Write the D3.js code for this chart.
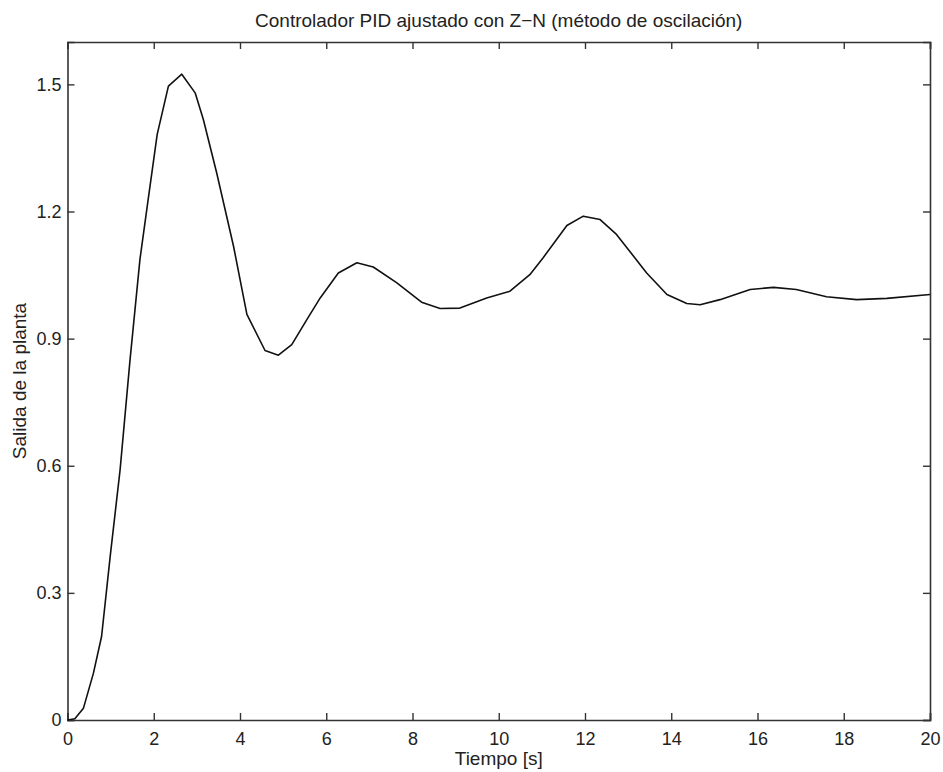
<!DOCTYPE html>
<html>
<head>
<meta charset="utf-8">
<script src="https://cdn.jsdelivr.net/npm/d3@7"></script>
<style>
  body { margin: 0; background: #fff; }
  text { font-family: "Liberation Sans", Arial, sans-serif; fill: #222; }
</style>
</head>
<body>
<div id="chart-area"></div>
<script>
// step response of the plant
const tiempo = [0, 0.17, 0.37, 0.6, 0.79, 0.99, 1.22, 1.45, 1.68, 1.87, 2.08, 2.34, 2.65, 2.96, 3.15,
  3.46, 3.85, 4.16, 4.58, 4.89, 5.2, 5.55, 5.86, 6.28, 6.71, 7.09, 7.63, 8.21, 8.64, 9.1, 9.72,
  10.26, 10.72, 11.03, 11.58, 11.96, 12.35, 12.73, 13.43, 13.9, 14.36, 14.67, 15.13, 15.83, 16.37,
  16.9, 17.6, 18.3, 19.0, 20];
const salida = [0, 0.003, 0.028, 0.11, 0.197, 0.386, 0.591, 0.85, 1.087, 1.228, 1.382, 1.496, 1.524, 1.48, 1.417,
  1.291, 1.118, 0.957, 0.872, 0.861, 0.886, 0.945, 0.996, 1.055, 1.079, 1.069, 1.032, 0.986, 0.971, 0.972, 0.996,
  1.012, 1.051, 1.091, 1.167, 1.189, 1.181, 1.146, 1.055, 1.004, 0.983, 0.98, 0.992, 1.016, 1.021,
  1.016, 0.999, 0.992, 0.995, 1.004];
const xTicks = [0, 2, 4, 6, 8, 10, 12, 14, 16, 18, 20];
const yTicks = [0, 0.3, 0.6, 0.9, 1.2, 1.5];

let margin = { top: 42, right: 13, bottom: 52, left: 67.5 },
  width = 943 - margin.left - margin.right,
  height = 772 - margin.top - margin.bottom;

let svg = d3
  .select("#chart-area")
  .append("svg")
  .attr("width", 943)
  .attr("height", 772)
  .append("g")
  .attr("transform", "translate(" + margin.left + "," + margin.top + ")");

let x = d3.scaleLinear().domain([0, 20]).range([0, width]);
let y = d3.scaleLinear().domain([0, 1.6]).range([height, 0]);

const axisColor = "#333";
const fmt = (d) => (d === 0 ? "0" : d3.format(".1f")(d));

// bottom + top axes, ticks pointing inward
let xAxisGroup = svg.append("g")
  .attr("transform", "translate(0," + height + ")")
  .call(d3.axisBottom(x).tickValues(xTicks).tickSize(-7).tickPadding(12).tickFormat(d3.format("d")));
svg.append("g")
  .call(d3.axisTop(x).tickValues(xTicks).tickSize(-7).tickFormat(""));

let yAxisGroup = svg.append("g")
  .call(d3.axisLeft(y).tickValues(yTicks).tickSize(-7).tickPadding(6).tickFormat(fmt));
svg.append("g")
  .attr("transform", "translate(" + width + ",0)")
  .call(d3.axisRight(y).tickValues(yTicks).tickSize(-7).tickFormat(""));

svg.selectAll(".domain").attr("stroke", axisColor).attr("stroke-width", 1.6);
svg.selectAll(".tick line").attr("stroke", axisColor).attr("stroke-width", 1.4);
svg.selectAll(".tick text").attr("font-size", 18).attr("fill", "#222")
  .attr("font-family", "Liberation Sans, Arial, sans-serif");

// the curve
let line = d3.line().x((d, i) => x(tiempo[i])).y((d) => y(d));
svg.append("path")
  .datum(salida)
  .attr("fill", "none")
  .attr("stroke", "#111")
  .attr("stroke-width", 1.6)
  .attr("stroke-linejoin", "round")
  .attr("d", line);

// titles
svg.append("text")
  .attr("x", width / 2)
  .attr("y", -15)
  .attr("text-anchor", "middle")
  .attr("font-size", 19)
  .text("Controlador PID ajustado con Z\u2212N (método de oscilación)");

svg.append("text")
  .attr("x", width / 2)
  .attr("y", height + 45)
  .attr("text-anchor", "middle")
  .attr("font-size", 19)
  .text("Tiempo [s]");

svg.append("text")
  .attr("transform", "translate(" + (-41.5) + "," + height / 2 + ") rotate(-90)")
  .attr("text-anchor", "middle")
  .attr("font-size", 19)
  .text("Salida de la planta");
</script>
</body>
</html>
